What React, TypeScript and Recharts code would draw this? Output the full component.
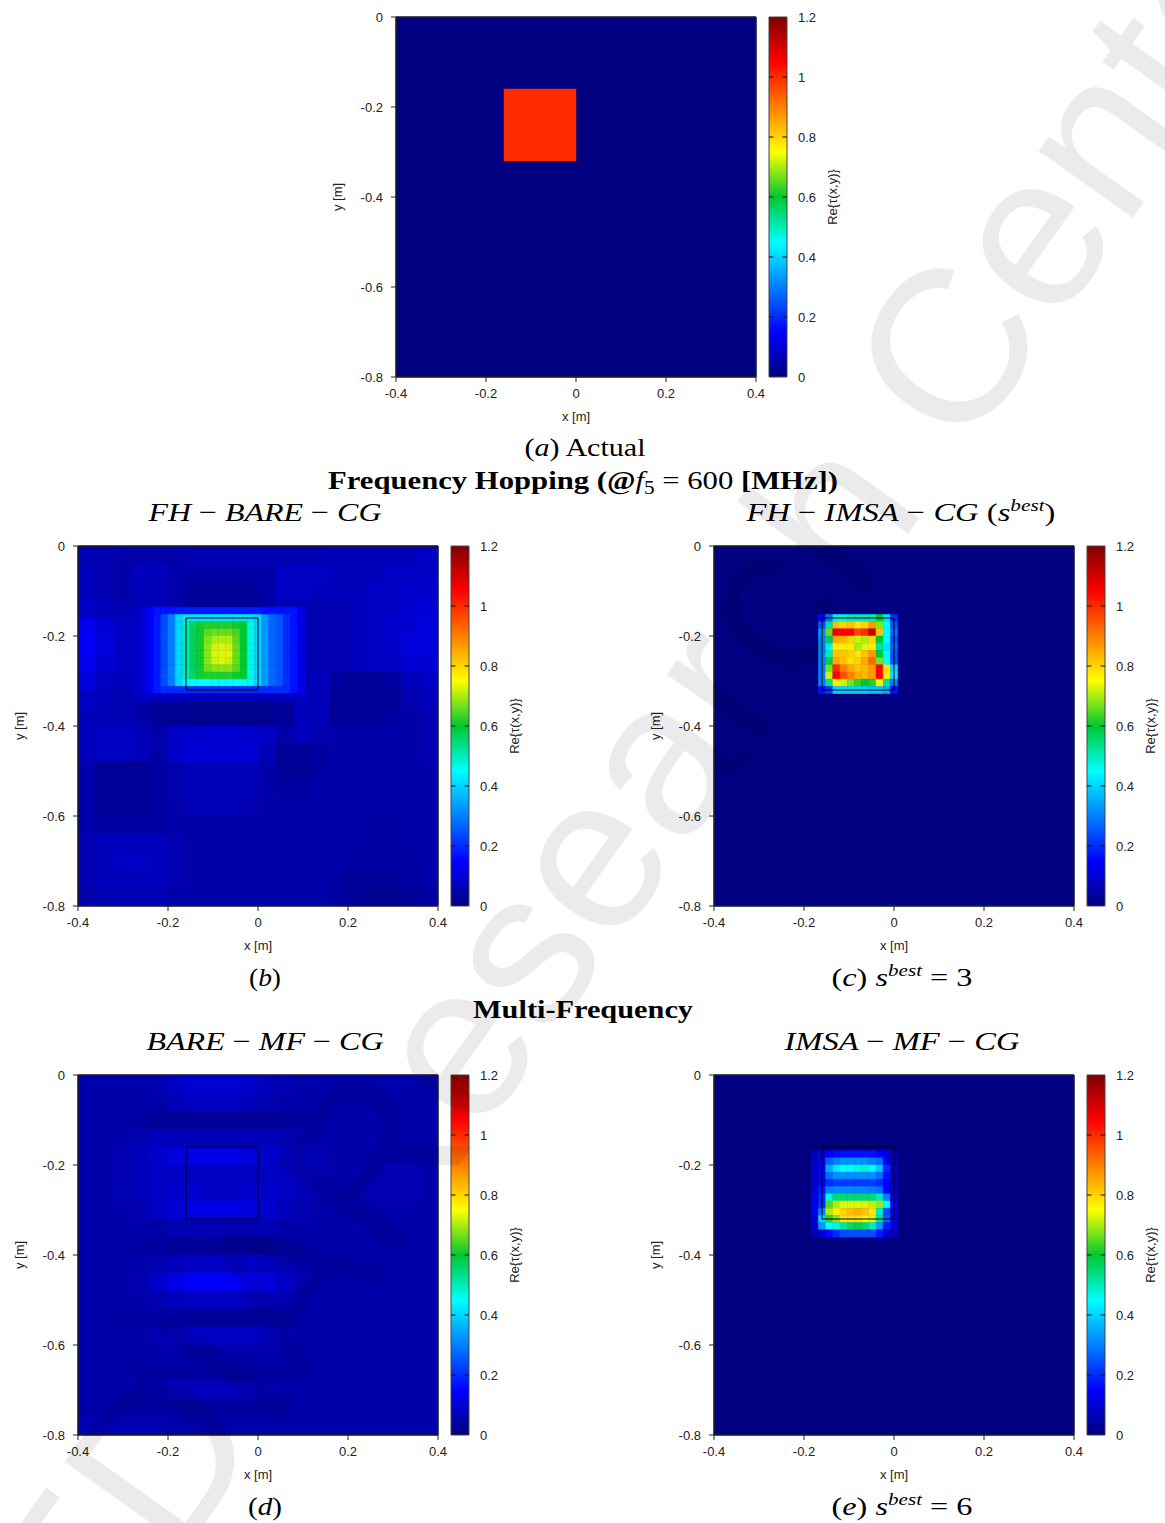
import React from "react";
import { ScatterChart, XAxis, YAxis, ReferenceArea, ReferenceLine } from "recharts";

// axis ticks
const xTicks = [-0.4, -0.2, 0, 0.2, 0.4];
const yTicks = [-0.8, -0.6, -0.4, -0.2, 0];
const colorTicks = [0, 0.2, 0.4, 0.6, 0.8, 1, 1.2];

// (a) actual scatterer
const scattererX = [-0.16, 0];
const scattererY = [-0.32, -0.16];
const actualContrast = 1.0;

// coarse 20x20 backgrounds, values x100, first row at y = 0
const fhBareBackground = [
  [6, 6, 5, 5, 5, 5, 6, 6, 6, 6, 6, 6, 6, 6, 7, 7, 7, 7, 7, 8],
  [7, 6, 5, 7, 7, 5, 5, 5, 5, 5, 5, 8, 8, 8, 7, 7, 7, 8, 8, 8],
  [7, 6, 5, 7, 7, 5, 3, 3, 3, 3, 5, 8, 8, 7, 7, 7, 8, 8, 9, 9],
  [8, 7, 6, 6, 6, 5, 3, 3, 3, 3, 4, 6, 6, 6, 6, 7, 8, 8, 10, 10],
  [13, 10, 8, 7, 7, 8, 8, 8, 8, 8, 8, 7, 6, 6, 6, 7, 8, 9, 10, 11],
  [14, 11, 8, 7, 7, 8, 8, 8, 8, 8, 8, 7, 6, 6, 6, 7, 8, 9, 11, 11],
  [13, 10, 8, 6, 6, 6, 6, 6, 6, 6, 6, 6, 6, 6, 6, 7, 8, 8, 10, 10],
  [11, 8, 7, 6, 5, 5, 5, 5, 5, 5, 5, 5, 6, 7, 4, 3, 3, 4, 7, 8],
  [8, 7, 6, 5, 3, 3, 2, 2, 2, 2, 2, 3, 7, 7, 3, 3, 3, 3, 6, 7],
  [7, 7, 6, 5, 3, 2, 2, 2, 2, 2, 2, 3, 7, 7, 3, 3, 3, 4, 5, 6],
  [7, 8, 8, 7, 5, 8, 9, 10, 10, 9, 8, 5, 7, 6, 5, 5, 5, 5, 5, 6],
  [7, 8, 8, 7, 5, 9, 10, 10, 10, 10, 7, 3, 3, 4, 5, 5, 5, 5, 5, 6],
  [5, 3, 3, 3, 4, 6, 7, 7, 7, 7, 5, 3, 3, 4, 5, 5, 5, 5, 5, 5],
  [5, 3, 3, 3, 4, 6, 7, 7, 7, 7, 5, 4, 4, 5, 5, 5, 5, 5, 5, 5],
  [5, 3, 3, 3, 4, 5, 7, 7, 7, 6, 5, 5, 5, 5, 5, 5, 5, 5, 5, 5],
  [5, 4, 4, 4, 4, 5, 5, 5, 5, 5, 5, 5, 5, 5, 5, 5, 4, 4, 5, 5],
  [6, 7, 7, 7, 7, 6, 5, 5, 5, 5, 5, 5, 5, 5, 5, 5, 4, 4, 5, 5],
  [6, 7, 8, 8, 7, 6, 5, 5, 5, 5, 5, 5, 5, 5, 5, 4, 4, 4, 4, 5],
  [6, 7, 7, 7, 7, 6, 5, 5, 5, 5, 5, 5, 5, 5, 4, 3, 3, 3, 4, 5],
  [5, 6, 6, 6, 6, 5, 5, 5, 5, 5, 5, 5, 5, 5, 4, 3, 2, 2, 3, 4],
];

const mfBareBackground = [
  [5, 5, 5, 5, 6, 8, 10, 10, 10, 9, 7, 6, 5, 5, 5, 5, 5, 5, 5, 5],
  [5, 5, 5, 5, 5, 7, 8, 8, 8, 7, 6, 5, 5, 5, 5, 5, 5, 5, 5, 5],
  [5, 5, 5, 4, 3, 3, 3, 3, 3, 3, 3, 3, 4, 5, 5, 5, 5, 5, 5, 5],
  [5, 5, 5, 6, 7, 7, 7, 7, 7, 7, 7, 6, 6, 5, 5, 5, 5, 5, 5, 5],
  [5, 5, 6, 7, 9, 11, 12, 12, 12, 11, 9, 8, 7, 6, 5, 5, 5, 5, 5, 5],
  [5, 5, 6, 7, 8, 8, 8, 8, 8, 8, 8, 8, 7, 6, 5, 5, 5, 6, 6, 5],
  [5, 5, 6, 7, 8, 9, 9, 8, 8, 9, 9, 8, 7, 6, 5, 5, 6, 6, 6, 5],
  [5, 5, 5, 6, 8, 10, 12, 12, 12, 11, 9, 7, 6, 5, 5, 5, 5, 5, 5, 5],
  [5, 5, 5, 5, 5, 6, 6, 6, 6, 6, 6, 5, 5, 5, 5, 5, 5, 5, 5, 5],
  [5, 5, 5, 4, 4, 3, 3, 3, 3, 3, 3, 4, 4, 5, 5, 5, 5, 5, 5, 5],
  [5, 5, 5, 5, 6, 7, 8, 8, 8, 8, 7, 6, 5, 5, 5, 5, 5, 5, 5, 5],
  [5, 5, 5, 6, 9, 12, 14, 14, 14, 13, 11, 8, 6, 5, 5, 5, 5, 5, 5, 5],
  [5, 5, 5, 5, 6, 7, 8, 8, 8, 7, 7, 6, 5, 5, 5, 5, 5, 5, 5, 5],
  [5, 5, 4, 4, 4, 4, 3, 3, 3, 3, 4, 4, 5, 5, 5, 5, 5, 5, 5, 5],
  [5, 5, 5, 5, 6, 7, 8, 8, 8, 8, 7, 6, 5, 5, 5, 5, 5, 5, 5, 5],
  [5, 5, 5, 5, 5, 5, 5, 5, 5, 5, 5, 5, 5, 5, 5, 5, 5, 5, 5, 5],
  [5, 5, 5, 4, 4, 4, 4, 4, 4, 4, 4, 4, 5, 5, 5, 5, 5, 5, 5, 5],
  [5, 5, 5, 5, 6, 7, 7, 7, 7, 7, 6, 5, 5, 5, 5, 5, 5, 5, 5, 5],
  [5, 5, 5, 4, 4, 4, 4, 4, 4, 4, 4, 4, 5, 5, 5, 5, 5, 5, 5, 5],
  [6, 6, 6, 6, 6, 5, 5, 5, 5, 5, 5, 5, 5, 5, 5, 5, 5, 5, 5, 5],
];

// fine patches on the 51x51 grid (step 0.016), values x100, start = [col, row]
const fhBarePatchStart = [8, 9];
const fhBarePatch = [
  [8, 10, 14, 17, 17, 17, 18, 18, 18, 18, 18, 18, 18, 18, 18, 18, 18, 18, 17, 17, 17, 17, 17, 12],
  [8, 10, 14, 18, 24, 30, 40, 42, 42, 42, 42, 42, 42, 42, 42, 42, 42, 40, 33, 27, 25, 20, 17, 12],
  [8, 10, 14, 18, 24, 30, 40, 50, 56, 61, 62, 62, 62, 62, 61, 60, 47, 40, 33, 27, 25, 20, 17, 12],
  [8, 10, 14, 18, 24, 30, 40, 50, 57, 61, 65, 66, 66, 66, 64, 60, 47, 40, 33, 27, 25, 20, 17, 12],
  [8, 10, 14, 18, 24, 30, 40, 50, 57, 61, 67, 70, 70, 70, 65, 60, 47, 40, 33, 27, 25, 20, 17, 12],
  [8, 10, 14, 18, 24, 30, 40, 50, 57, 61, 68, 72, 73, 72, 66, 60, 47, 40, 33, 27, 25, 20, 17, 12],
  [8, 10, 14, 18, 24, 30, 40, 50, 57, 61, 68, 73, 73, 73, 66, 60, 47, 40, 33, 27, 25, 20, 17, 12],
  [8, 10, 14, 18, 24, 30, 40, 50, 57, 61, 68, 72, 73, 72, 66, 60, 47, 40, 33, 27, 25, 20, 17, 12],
  [8, 10, 14, 18, 24, 30, 40, 50, 57, 61, 66, 68, 68, 68, 65, 60, 47, 40, 33, 27, 25, 20, 17, 12],
  [8, 10, 14, 18, 24, 30, 40, 50, 56, 61, 62, 62, 62, 62, 61, 60, 47, 40, 33, 27, 25, 20, 17, 12],
  [8, 10, 14, 18, 24, 30, 40, 44, 45, 45, 45, 45, 45, 45, 45, 45, 44, 40, 33, 27, 25, 20, 17, 12],
  [8, 10, 14, 18, 20, 20, 20, 20, 20, 20, 20, 20, 20, 20, 20, 20, 20, 20, 20, 20, 20, 20, 17, 12],
  [8, 8, 8, 8, 8, 8, 8, 8, 8, 8, 8, 8, 8, 8, 8, 8, 8, 8, 8, 8, 8, 8, 8, 8],
];

const fhImsaPatchStart = [15, 10];
const fhImsaPatch = [
  [15, 30, 45, 48, 50, 50, 50, 50, 60, 42, 20],
  [25, 50, 80, 80, 82, 78, 80, 87, 68, 45, 25],
  [33, 68, 105, 105, 105, 97, 100, 112, 82, 45, 28],
  [32, 55, 85, 84, 80, 72, 70, 80, 60, 45, 25],
  [32, 45, 77, 77, 77, 70, 73, 77, 52, 42, 27],
  [32, 50, 82, 82, 80, 78, 82, 87, 60, 45, 25],
  [30, 58, 85, 82, 78, 80, 85, 93, 67, 45, 25],
  [30, 67, 100, 90, 85, 82, 83, 87, 105, 78, 40],
  [30, 72, 105, 96, 90, 85, 84, 87, 105, 77, 42],
  [30, 53, 77, 72, 67, 63, 60, 62, 75, 53, 30],
  [17, 22, 40, 40, 40, 40, 40, 38, 38, 35, 17],
];

const mfImsaPatchStart = [14, 11];
const mfImsaPatch = [
  [7, 10, 15, 16, 17, 17, 17, 17, 17, 15, 11, 5],
  [8, 12, 26, 30, 32, 32, 32, 32, 30, 28, 12, 7],
  [8, 15, 35, 42, 45, 45, 47, 48, 45, 38, 20, 8],
  [8, 15, 28, 32, 32, 32, 32, 32, 32, 28, 17, 8],
  [8, 14, 20, 22, 22, 22, 22, 22, 22, 20, 15, 8],
  [10, 18, 30, 31, 31, 31, 31, 31, 30, 28, 15, 8],
  [12, 20, 47, 55, 55, 55, 55, 55, 55, 50, 30, 12],
  [12, 20, 65, 70, 73, 73, 73, 73, 71, 69, 45, 15],
  [12, 30, 70, 77, 80, 82, 84, 82, 78, 50, 24, 12],
  [10, 40, 63, 68, 78, 78, 78, 76, 73, 52, 26, 12],
  [8, 33, 45, 47, 52, 55, 58, 55, 50, 33, 18, 10],
  [6, 10, 16, 20, 24, 24, 24, 24, 24, 18, 12, 6],
];

// jet-like palette used by the figure
const palette: [number, number[]][] = [
  [0, [0, 0, 128]],
  [0.15, [0, 0, 255]],
  [0.45, [0, 255, 255]],
  [0.6, [0, 200, 48]],
  [0.75, [255, 255, 0]],
  [1.05, [255, 0, 0]],
  [1.2, [128, 0, 0]],
];

function colorOf(v: number) {
  const t = Math.max(0, Math.min(1.2, v));
  for (let i = 1; i < palette.length; i++) {
    const [v1, c1] = palette[i];
    const [v0, c0] = palette[i - 1];
    if (t <= v1) {
      const f = (t - v0) / (v1 - v0);
      const c = c0.map((a, k) => Math.round(a + (c1[k] - a) * f));
      return `rgb(${c[0]},${c[1]},${c[2]})`;
    }
  }
  return "rgb(128,0,0)";
}

type Cell = { x1: number; x2: number; y1: number; y2: number; v: number };

const coarseStep = 0.04;
const fineStep = 0.016;

function coarseCells(grid: number[][]): Cell[] {
  const out: Cell[] = [];
  grid.forEach((row, r) =>
    row.forEach((v, c) => {
      const x1 = -0.4 + c * coarseStep;
      const y2 = -r * coarseStep;
      out.push({ x1, x2: x1 + coarseStep, y1: y2 - coarseStep, y2, v: v / 100 });
    })
  );
  return out;
}

function patchCells(grid: number[][], start: number[]): Cell[] {
  const out: Cell[] = [];
  grid.forEach((row, r) =>
    row.forEach((v, c) => {
      const cx = -0.4 + (start[0] + c) * fineStep;
      const cy = -(start[1] + r) * fineStep;
      const h = fineStep / 2;
      out.push({ x1: cx - h, x2: cx + h, y1: cy - h, y2: cy + h, v: v / 100 });
    })
  );
  return out;
}

const emptyBackground: Cell[] = [{ x1: -0.4, x2: 0.4, y1: -0.8, y2: 0, v: 0 }];

const panelA = [
  ...emptyBackground,
  { x1: scattererX[0], x2: scattererX[1], y1: scattererY[0], y2: scattererY[1], v: actualContrast },
];
const panelB = [...coarseCells(fhBareBackground), ...patchCells(fhBarePatch, fhBarePatchStart)];
const panelC = [...emptyBackground, ...patchCells(fhImsaPatch, fhImsaPatchStart)];
const panelD = coarseCells(mfBareBackground);
const panelE = [...emptyBackground, ...patchCells(mfImsaPatch, mfImsaPatchStart)];

const sans = "'Liberation Sans', Arial, sans-serif";
const serif = "'Liberation Serif', 'DejaVu Serif', serif";
const tickStyle = { fontSize: 13, fill: "#222", fontFamily: sans };
const labelStyle = { fontSize: 13, fill: "#222", fontFamily: sans, textAnchor: "middle" as const };

function HeatMap({ left, top, cells, box }: { left: number; top: number; cells: Cell[]; box: boolean }) {
  return (
    <div style={{ position: "absolute", left: left - 70, top: top - 10 }}>
      <ScatterChart width={440} height={420} margin={{ top: 9, right: 9, bottom: 0, left: 0 }}>
        <XAxis
          xAxisId="b"
          type="number"
          dataKey="x"
          domain={[-0.4, 0.4]}
          ticks={xTicks}
          allowDataOverflow
          height={50}
          tickSize={5}
          tickMargin={7}
          stroke="#222"
          tick={tickStyle}
          label={{ value: "x [m]", position: "insideBottom", offset: 6, style: labelStyle }}
        />
        <XAxis xAxisId="t" orientation="top" type="number" domain={[-0.4, 0.4]} ticks={xTicks} allowDataOverflow height={1} tickSize={5} tick={false} stroke="#222" />
        <YAxis
          yAxisId="l"
          type="number"
          dataKey="y"
          domain={[-0.8, 0]}
          ticks={yTicks}
          allowDataOverflow
          width={70}
          tickSize={5}
          tickMargin={8}
          stroke="#222"
          tick={tickStyle}
          label={{ value: "y [m]", angle: -90, position: "insideLeft", offset: 11, style: labelStyle }}
        />
        <YAxis yAxisId="r" orientation="right" type="number" domain={[-0.8, 0]} ticks={yTicks} allowDataOverflow width={1} tickSize={5} tick={false} stroke="#222" />
        {cells.map((c, i) => {
          const col = colorOf(c.v);
          return (
            <ReferenceArea
              key={i}
              xAxisId="b"
              yAxisId="l"
              x1={c.x1}
              x2={c.x2}
              y1={c.y1}
              y2={c.y2}
              fill={col}
              fillOpacity={1}
              stroke={col}
              strokeWidth={0.5}
              ifOverflow="visible"
            />
          );
        })}
        {box && (
          <ReferenceArea
            xAxisId="b"
            yAxisId="l"
            x1={scattererX[0]}
            x2={scattererX[1]}
            y1={scattererY[0]}
            y2={scattererY[1]}
            fill="none"
            stroke="#000"
            strokeWidth={1}
            ifOverflow="visible"
          />
        )}
        <ReferenceArea xAxisId="b" yAxisId="l" x1={-0.4} x2={0.4} y1={-0.8} y2={0} fill="none" stroke="#222" strokeWidth={1} ifOverflow="visible" />
      </ScatterChart>
    </div>
  );
}

function ColorBar({ left, top }: { left: number; top: number }) {
  const dashes = colorTicks.slice(1, -1).flatMap((v) => [
    <ReferenceLine key={`l${v}`} segment={[{ x: 0, y: v }, { x: 0.25, y: v }]} stroke="#111" ifOverflow="visible" />,
    <ReferenceLine key={`r${v}`} segment={[{ x: 0.75, y: v }, { x: 1, y: v }]} stroke="#111" ifOverflow="visible" />,
  ]);
  return (
    <div style={{ position: "absolute", left: left - 5, top: top - 10 }}>
      <ScatterChart width={93} height={420} margin={{ top: 10, right: 0, bottom: 50, left: 5 }}>
        <XAxis type="number" dataKey="x" domain={[0, 1]} allowDataOverflow hide />
        <YAxis
          type="number"
          dataKey="v"
          domain={[0, 1.2]}
          ticks={colorTicks}
          allowDataOverflow
          orientation="right"
          width={70}
          axisLine={false}
          tickLine={false}
          tickSize={5}
          tickMargin={6}
          tick={tickStyle}
          label={{ value: "Re{τ(x,y)}", angle: -90, position: "insideRight", offset: 25, style: labelStyle }}
        />
        <ReferenceArea x1={0} x2={1} y1={0} y2={1.2} fill="url(#jetBar)" fillOpacity={1} stroke="#444" strokeWidth={1} ifOverflow="visible" />
        {dashes}
      </ScatterChart>
    </div>
  );
}

function Sup({ children }: { children: React.ReactNode }) {
  return (
    <>
      <tspan dy={-10} fontSize={17}>
        {children}
      </tspan>
      <tspan dy={10}> </tspan>
    </>
  );
}

function Captions() {
  const cap = { fontFamily: serif, fontSize: 26, fill: "#000", textAnchor: "middle" as const, lengthAdjust: "spacingAndGlyphs" };
  return (
    <svg width={1165} height={1523} style={{ position: "absolute", left: 0, top: 0, pointerEvents: "none" }}>
      <text x={585} y={456} {...cap} textLength={121}>
        (<tspan fontStyle="italic">a</tspan>) Actual
      </text>
      <text x={583} y={489} {...cap} fontWeight="bold" textLength={510}>
        Frequency Hopping (@<tspan fontStyle="italic" fontWeight="normal">f</tspan>
        <tspan fontWeight="normal" fontSize={18} dy={5}>5</tspan>
        <tspan fontWeight="normal" dy={-5}> = 600 </tspan>[MHz])
      </text>
      <text x={265} y={521} {...cap} fontStyle="italic" textLength={233}>
        FH <tspan fontStyle="normal">−</tspan> BARE <tspan fontStyle="normal">−</tspan> CG
      </text>
      <text x={901} y={521} {...cap} textLength={309}>
        <tspan fontStyle="italic">FH</tspan> − <tspan fontStyle="italic">IMSA</tspan> − <tspan fontStyle="italic">CG</tspan> (
        <tspan fontStyle="italic">s</tspan>
        <tspan dy={-10} fontSize={17} fontStyle="italic">best</tspan>
        <tspan dy={10}>)</tspan>
      </text>
      <text x={265} y={986} {...cap} textLength={32}>
        (<tspan fontStyle="italic">b</tspan>)
      </text>
      <text x={902} y={986} {...cap} textLength={141}>
        (<tspan fontStyle="italic">c</tspan>) <tspan fontStyle="italic">s</tspan>
        <Sup>
          <tspan fontStyle="italic">best</tspan>
        </Sup>
        = 3
      </text>
      <text x={583} y={1018} {...cap} fontWeight="bold" textLength={220}>
        Multi-Frequency
      </text>
      <text x={265} y={1050} {...cap} fontStyle="italic" textLength={237}>
        BARE <tspan fontStyle="normal">−</tspan> MF <tspan fontStyle="normal">−</tspan> CG
      </text>
      <text x={902} y={1050} {...cap} fontStyle="italic" textLength={235}>
        IMSA <tspan fontStyle="normal">−</tspan> MF <tspan fontStyle="normal">−</tspan> CG
      </text>
      <text x={265} y={1515} {...cap} textLength={34}>
        (<tspan fontStyle="italic">d</tspan>)
      </text>
      <text x={902} y={1515} {...cap} textLength={141}>
        (<tspan fontStyle="italic">e</tspan>) <tspan fontStyle="italic">s</tspan>
        <Sup>
          <tspan fontStyle="italic">best</tspan>
        </Sup>
        = 6
      </text>
    </svg>
  );
}

function Watermark() {
  const mark = { fontFamily: sans, fontSize: 218, fill: "#000", fillOpacity: 0.08 };
  return (
    <svg width={1165} height={1523} style={{ position: "absolute", left: 0, top: 0, pointerEvents: "none" }}>
      <g transform="translate(387,1267) rotate(-54.6)">
        <text x={0} y={0} textAnchor="end" {...mark}>
          ELEDIA{" "}
        </text>
        <text x={0} y={0} textAnchor="start" {...mark}>
          Research Center
        </text>
      </g>
    </svg>
  );
}

export default function App() {
  return (
    <div style={{ position: "absolute", left: 0, top: 0, width: 1165, height: 1523, background: "#fff", overflow: "hidden" }}>
      <svg width={0} height={0} style={{ position: "absolute" }}>
        <defs>
          <linearGradient id="jetBar" x1="0" y1="1" x2="0" y2="0">
            {palette.map(([v, c]) => (
              <stop key={v} offset={v / 1.2} stopColor={`rgb(${c[0]},${c[1]},${c[2]})`} />
            ))}
          </linearGradient>
        </defs>
      </svg>
      <HeatMap left={396} top={17} cells={panelA} box={false} />
      <ColorBar left={769} top={17} />
      <HeatMap left={78} top={546} cells={panelB} box />
      <ColorBar left={451} top={546} />
      <HeatMap left={714} top={546} cells={panelC} box />
      <ColorBar left={1087} top={546} />
      <HeatMap left={78} top={1075} cells={panelD} box />
      <ColorBar left={451} top={1075} />
      <HeatMap left={714} top={1075} cells={panelE} box />
      <ColorBar left={1087} top={1075} />
      <Captions />
      <Watermark />
    </div>
  );
}
